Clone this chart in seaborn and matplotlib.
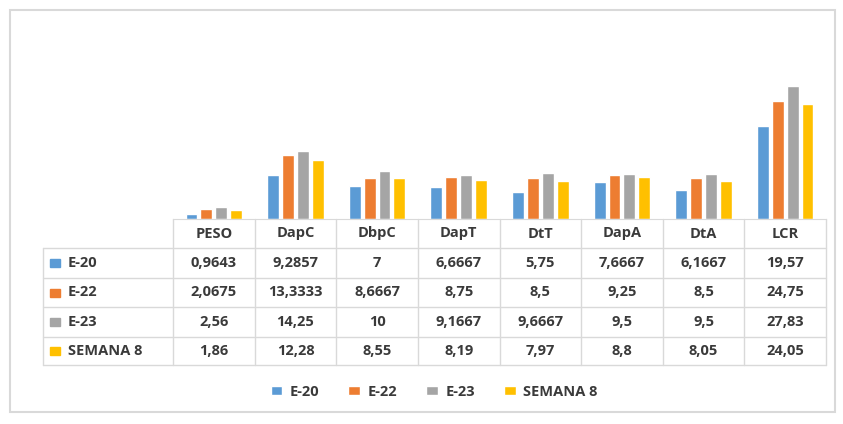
import matplotlib
matplotlib.use("Agg")
import matplotlib.pyplot as plt
from matplotlib.patches import Rectangle, Patch
import pandas as pd
import seaborn as sns

# Data
categories = ["PESO", "DapC", "DbpC", "DapT", "DtT", "DapA", "DtA", "LCR"]
series = ["E-20", "E-22", "E-23", "SEMANA 8"]
e20 = [0.9643, 9.2857, 7, 6.6667, 5.75, 7.6667, 6.1667, 19.57]
e22 = [2.0675, 13.3333, 8.6667, 8.75, 8.5, 9.25, 8.5, 24.75]
e23 = [2.56, 14.25, 10, 9.1667, 9.6667, 9.5, 9.5, 27.83]
semana8 = [1.86, 12.28, 8.55, 8.19, 7.97, 8.8, 8.05, 24.05]
colors = ["#5B9BD5", "#ED7D31", "#A5A5A5", "#FFC000"]

values = [e20, e22, e23, semana8]
df = pd.DataFrame(
    [(c, s, v) for s, vals in zip(series, values) for c, v in zip(categories, vals)],
    columns=["cat", "serie", "valor"],
)

W, H = 843, 424
sns.set_style("white")
plt.rcParams["font.family"] = ["Open Sans", "DejaVu Sans"]
fig = plt.figure(figsize=(W / 100, H / 100), dpi=100)


def fx(px):
    return px / W


def fy(py):
    return 1 - py / H


text_col = "#3a3a3a"
grid_col = "#D9D9D9"

# outer chart frame
fig.patches.append(Rectangle((fx(10), fy(412)), fx(825), (402) / H,
                             transform=fig.transFigure, fill=False,
                             edgecolor=grid_col, linewidth=1.5))

# bars
left, right, base, top = 173, 826, 219, 76
ax = fig.add_axes([fx(left), fy(base), fx(right - left), (base - top) / H])
sns.barplot(data=df, x="cat", y="valor", hue="serie", palette=colors,
            width=0.73, gap=0.2, ax=ax, legend=False, saturation=1)
ax.set_xlim(-0.5, len(categories) - 0.5)
ax.set_ylim(0, 30)
ax.set_xticks([])
ax.set_yticks([])
ax.set_xlabel("")
ax.set_ylabel("")
for side in ["top", "left", "right"]:
    ax.spines[side].set_visible(False)
ax.spines["bottom"].set_color(grid_col)
ax.patch.set_alpha(0)

# data table
col_w = (right - left) / len(categories)
row_y = [219, 248, 278, 307, 337, 365]
lbl_left = 43
lw = 1.0
for y in row_y[1:]:
    fig.add_artist(plt.Line2D([fx(lbl_left), fx(right)], [fy(y), fy(y)],
                              color=grid_col, lw=lw))
for j in range(len(categories) + 1):
    x = left + j * col_w
    fig.add_artist(plt.Line2D([fx(x), fx(x)], [fy(row_y[0]), fy(row_y[-1])],
                              color=grid_col, lw=lw))
fig.add_artist(plt.Line2D([fx(lbl_left), fx(lbl_left)], [fy(row_y[1]), fy(row_y[-1])],
                          color=grid_col, lw=lw))

fs = 10.5
for j, c in enumerate(categories):
    fig.text(fx(left + (j + 0.5) * col_w), fy((row_y[0] + row_y[1]) / 2), c,
             ha="center", va="center", fontsize=fs, color=text_col, weight="bold")

for i, (s, vals) in enumerate(zip(series, values)):
    yc = fy((row_y[i + 1] + row_y[i + 2]) / 2)
    fig.patches.append(Rectangle((fx(50), yc - 4 / H), fx(10), 8 / H,
                                 transform=fig.transFigure, color=colors[i]))
    fig.text(fx(68), yc, s, ha="left", va="center", fontsize=fs,
             color=text_col, weight="bold")
    for j, v in enumerate(vals):
        fig.text(fx(left + (j + 0.5) * col_w), yc, f"{v:g}".replace(".", ","),
                 ha="center", va="center", fontsize=fs, color=text_col,
                 weight="bold")

# legend
handles = [Patch(facecolor=c, label=s) for c, s in zip(colors, series)]
leg = fig.legend(handles=handles, loc="center", bbox_to_anchor=(fx(434), fy(392)),
                 ncol=4, frameon=False, fontsize=fs, handlelength=0.8,
                 handleheight=0.6, handletextpad=0.5, columnspacing=2.0)
for t in leg.get_texts():
    t.set_color(text_col)
    t.set_fontweight("bold")

fig.savefig("out.png", dpi=100, facecolor="white")
